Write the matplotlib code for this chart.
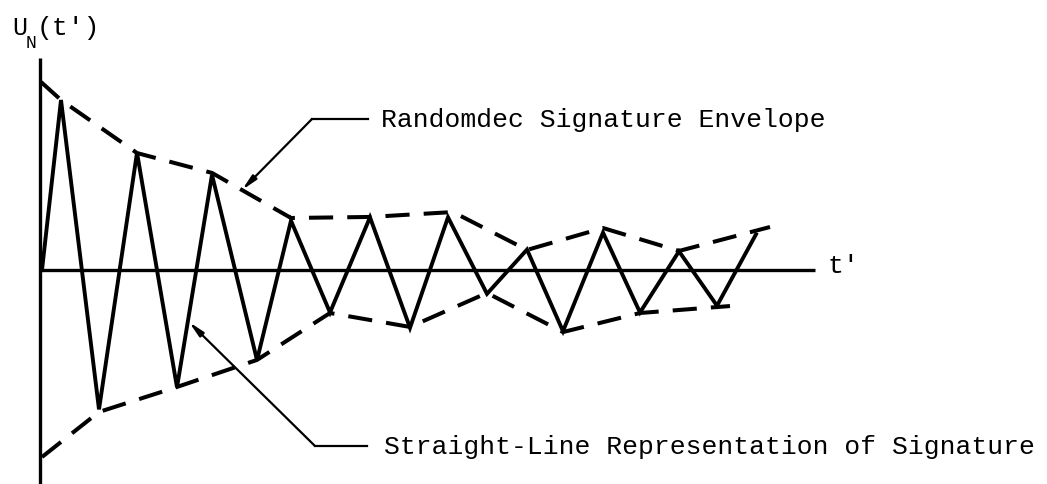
import matplotlib.pyplot as plt

# straight-line signature vertices (t', U_N)
sig_t = [0.05, 0.525, 1.475, 2.425, 3.425, 4.3, 5.425, 6.275, 7.25, 8.25,
         9.25, 10.2, 11.175, 12.175, 13.075, 14.075, 15.0, 15.975, 16.925, 17.9]
sig_u = [0.0, 1.0, -0.82, 0.69, -0.69, 0.56, -0.53, 0.29, -0.25, 0.31,
         -0.34, 0.31, -0.14, 0.12, -0.36, 0.22, -0.25, 0.11, -0.21, 0.21]

# randomdec envelope, upper and lower branches
upper_t = [0.025, 0.525, 2.425, 4.3, 6.275, 8.25, 10.325, 12.175, 14.075, 15.975, 18.25]
upper_u = [1.106, 1.0, 0.688, 0.571, 0.306, 0.312, 0.341, 0.118, 0.247, 0.112, 0.253]
lower_t = [0.05, 1.475, 3.425, 5.425, 7.25, 9.25, 11.175, 13.075, 15.0, 17.25]
lower_u = [-1.1, -0.835, -0.688, -0.529, -0.253, -0.335, -0.135, -0.365, -0.253, -0.212]

t_end = 19.375
FONT = 'Liberation Mono'


def px(x, y):
    # pixel position on the sheet -> data coordinates
    return ((x - 40) / 40.0, (270 - y) / 170.0)


fig = plt.figure(figsize=(10.47, 4.84), dpi=100)
ax = fig.add_axes([0, 0, 1, 1])
ax.set_xlim(px(0, 0)[0], px(1047, 0)[0])
ax.set_ylim(px(0, 484)[1], px(0, 0)[1])
ax.axis('off')

# axes drawn as plain lines
ax.plot([0, 0], [px(0, 58)[1], px(0, 490)[1]], color='k', lw=2.4, solid_capstyle='butt')
ax.plot([0, t_end], [0, 0], color='k', lw=2.4, solid_capstyle='butt')

ax.plot(sig_t, sig_u, color='k', lw=2.8, solid_joinstyle='miter')
for et, eu in [(upper_t, upper_u), (lower_t, lower_u)]:
    ax.plot(et, eu, color='k', lw=2.9, dashes=(6, 3.5), dash_capstyle='butt')

# axis labels
ax.text(*px(12, 28), 'U', family=FONT, fontsize=18, va='center', ha='left')
ax.text(*px(26, 44), 'N', family=FONT, fontsize=13, va='center', ha='left')
ax.text(*px(37, 28), "(t')", family=FONT, fontsize=19, va='center', ha='left')
ax.text(*px(828, 266), "t'", family=FONT, fontsize=19, va='center', ha='left')

# leader for the envelope
arrow = dict(arrowstyle='-|>,head_length=0.9,head_width=0.18', lw=1.6, color='k',
             shrinkA=0, shrinkB=0)
ax.plot(*zip(px(312, 119), px(368, 119)), color='k', lw=1.6)
ax.annotate('', xy=px(242, 190), xytext=px(312, 119), arrowprops=arrow)
ax.text(*px(381, 120), 'Randomdec Signature Envelope', family=FONT, fontsize=19,
        va='center', ha='left')

# leader for the signature
ax.plot(*zip(px(315, 446), px(367, 446)), color='k', lw=1.6)
ax.annotate('', xy=px(189, 322), xytext=px(315, 446), arrowprops=arrow)
ax.text(*px(384, 447), 'Straight-Line Representation of Signature', family=FONT,
        fontsize=19, va='center', ha='left')

fig.savefig('out.png', dpi=100, facecolor='white')
